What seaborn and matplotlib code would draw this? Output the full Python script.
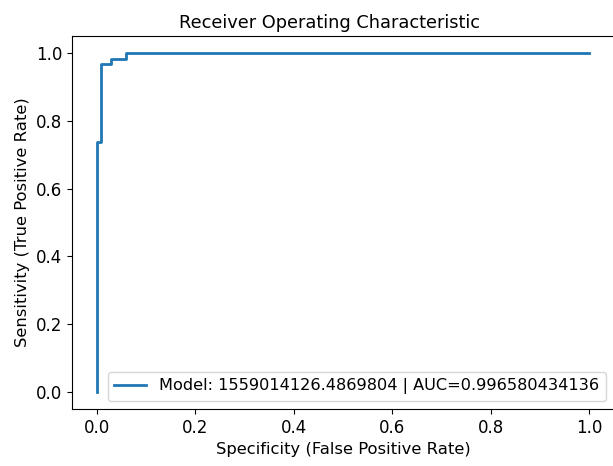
import matplotlib
matplotlib.use("Agg")
import matplotlib.pyplot as plt
import seaborn as sns
import pandas as pd

fpr = [0.0, 0.0, 0.0095, 0.0095, 0.0286, 0.0286, 0.0590, 0.0590, 1.0]
tpr = [0.0, 0.737, 0.737, 0.966, 0.966, 0.982, 0.982, 1.0, 1.0]
label = "Model: 1559014126.4869804 | AUC=0.996580434136"

df = pd.DataFrame({"fpr": fpr, "tpr": tpr, "model": label})

plt.rcParams["font.family"] = ["DejaVu Sans"]
fig = plt.figure(figsize=(6.13, 4.66), dpi=100)
ax = fig.add_axes([72/613, (466-409)/466, (614-72)/613, (409-36)/466])
sns.lineplot(data=df, x="fpr", y="tpr", hue="model", estimator=None, sort=False,
             palette=["#1f77b4"], linewidth=2, ax=ax)
ax.set_xlim(-0.05, 1.05)
ax.set_ylim(-0.05, 1.05)
ax.set_xticks([0.0, 0.2, 0.4, 0.6, 0.8, 1.0])
ax.set_yticks([0.0, 0.2, 0.4, 0.6, 0.8, 1.0])
ax.tick_params(labelsize=12)
ax.set_xlabel("Specificity (False Positive Rate)", fontsize=11.8)
ax.set_ylabel("Sensitivity (True Positive Rate)", fontsize=11.8)
ax.set_title("Receiver Operating Characteristic", fontsize=12.8, x=0.475)
ax.legend(loc="lower right", fontsize=11.6)
fig.savefig("out.png", dpi=100)
